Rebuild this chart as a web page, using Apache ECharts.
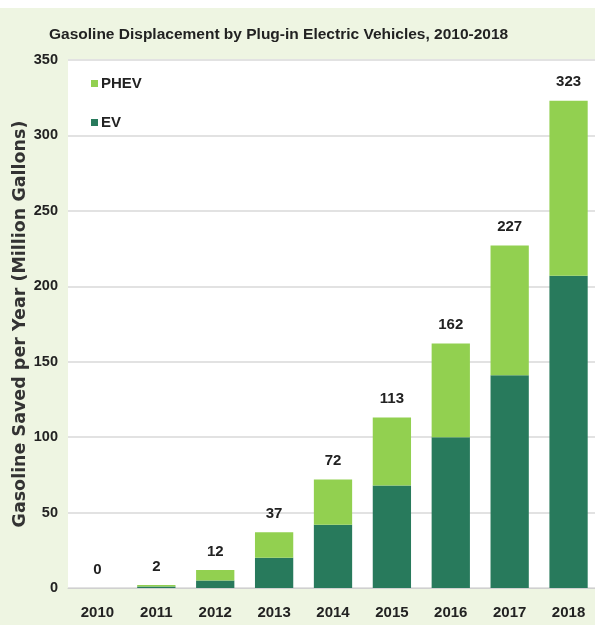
<!DOCTYPE html>
<html>
<head>
<meta charset="utf-8">
<title>Gasoline Displacement</title>
<script src="https://cdn.jsdelivr.net/npm/echarts@6/dist/echarts.min.js"></script>
<style>
  *{ margin:0; padding:0; }
  html, body{ width:100%; height:100%; background:#fff; }
  #chart{ position:absolute; left:0; top:8px; width:595px; height:617px; background:#eef5e2; }
</style>
</head>
<body>
<div id="chart"></div>
<script>
var years = ['2010','2011','2012','2013','2014','2015','2016','2017','2018'];
var ev    = [0, 1, 5, 20, 42, 68, 100, 141, 207];
var phev  = [0, 1, 7, 17, 30, 45, 62, 86, 116];
var totals = [0, 2, 12, 37, 72, 113, 162, 227, 323];

var font = '"Liberation Sans", Arial, sans-serif';

var chart = echarts.init(document.getElementById('chart'));
chart.setOption({
  animation: false,
  textStyle: { fontFamily: font },
  title: {
    text: 'Gasoline Displacement by Plug-in Electric Vehicles, 2010-2018',
    left: 44, top: 14,
    textStyle: { fontFamily: font, fontSize: 15.5, fontWeight: 'bold', color: '#222' }
  },
  legend: {
    orient: 'vertical',
    left: 86, top: 63,
    itemWidth: 7, itemHeight: 7, itemGap: 24,
    icon: 'rect',
    data: ['PHEV', 'EV'],
    textStyle: { fontFamily: font, fontSize: 15, fontWeight: 'bold', color: '#222', padding: [0,0,0,-2] }
  },
  grid: {
    left: 68, right: -3, top: 52, bottom: 37,
    outerBoundsMode: 'none', containLabel: false,
    backgroundColor: '#fff', show: true, borderWidth: 0
  },
  xAxis: {
    type: 'category',
    data: years,
    axisTick: { show: false },
    axisLine: { lineStyle: { color: '#d0d0d0' } },
    axisLabel: { fontFamily: font, fontSize: 15, fontWeight: 'bold', color: '#222', margin: 17 }
  },
  yAxis: {
    type: 'value',
    min: 0, max: 350, interval: 50,
    name: 'Gasoline Saved per Year (Million Gallons)',
    nameLocation: 'middle', nameGap: 39, nameMoveOverlap: false,
    nameTextStyle: { fontFamily: '"DejaVu Sans", sans-serif', fontSize: 17.5, fontWeight: 'bold', color: '#333' },
    axisLabel: { fontFamily: font, fontSize: 14.5, fontWeight: 'bold', color: '#222', margin: 10 },
    splitLine: { lineStyle: { color: '#e2e2e2', width: 2 } },
    axisLine: { show: false }, axisTick: { show: false }
  },
  series: [
    { name: 'EV', type: 'bar', stack: 't', data: ev, barWidth: '65%', itemStyle: { color: '#287a5c' } },
    { name: 'PHEV', type: 'bar', stack: 't', data: phev, itemStyle: { color: '#92d050' } },
    {
      name: 'Total', type: 'line', data: totals, symbolSize: 0, showSymbol: true,
      lineStyle: { opacity: 0 }, silent: true,
      label: { show: true, position: 'top', distance: 11, fontFamily: font, fontSize: 15, fontWeight: 'bold', color: '#222' }
    }
  ]
});
</script>
</body>
</html>
